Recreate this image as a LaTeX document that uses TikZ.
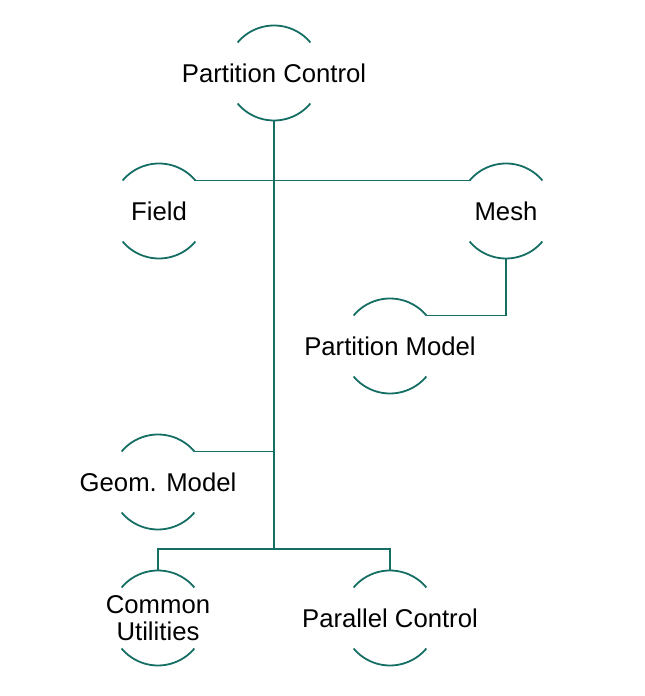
\documentclass[tikz,border=0pt]{standalone}
\usepackage{fontspec}
\setmainfont{Liberation Sans}
\usepackage{tikz}

\definecolor{linkteal}{RGB}{20,110,100}
\tikzset{
  link/.style={draw=linkteal, line width=0.9pt},
  unit/.style={circle, minimum size=47.5pt, inner sep=0pt, outer sep=0pt},
  unittext/.style={align=center, font=\fontsize{12.85}{13.5}\selectfont}
}

\begin{document}
\begin{tikzpicture}[x=0.5pt,y=0.5pt]
\useasboundingbox (0,0) rectangle (644,696);

%units
\node[unit, label={[unittext]center:Partition Control}] (pc) at (274,623) {};
\node[unit, label={[unittext]center:Field}] (field) at (159,485) {};
\node[unit, label={[unittext]center:Mesh}] (mesh) at (506,485) {};
\node[unit, label={[unittext]center:Partition Model}] (pmodel) at (390,350) {};
\node[unit, label={[unittext]center:Geom. Model}] (geom) at (158,214) {};
\node[unit, label={[unittext]center:Common\\Utilities}] (common) at (158,78) {};
\node[unit, label={[unittext]center:Parallel Control}] (parallel) at (390,78) {};
\coordinate (bus) at (274,147);

%arcs
\foreach \n in {pc,field,mesh,pmodel,geom,common,parallel}{
  \draw[link] (\n.40) arc (40:140:23.75pt);
  \draw[link] (\n.220) arc (220:320:23.75pt);
}

%links
\draw[link] (pc.south) -- (bus);
\draw[link] (field.40) -- (mesh.140);
\draw[link] (mesh.south) |- (pmodel.40);
\draw[link] (geom.40) -- (geom.40 -| bus);
\draw[link] (common.north) |- (bus) -| (parallel.north);
\end{tikzpicture}
\end{document}
